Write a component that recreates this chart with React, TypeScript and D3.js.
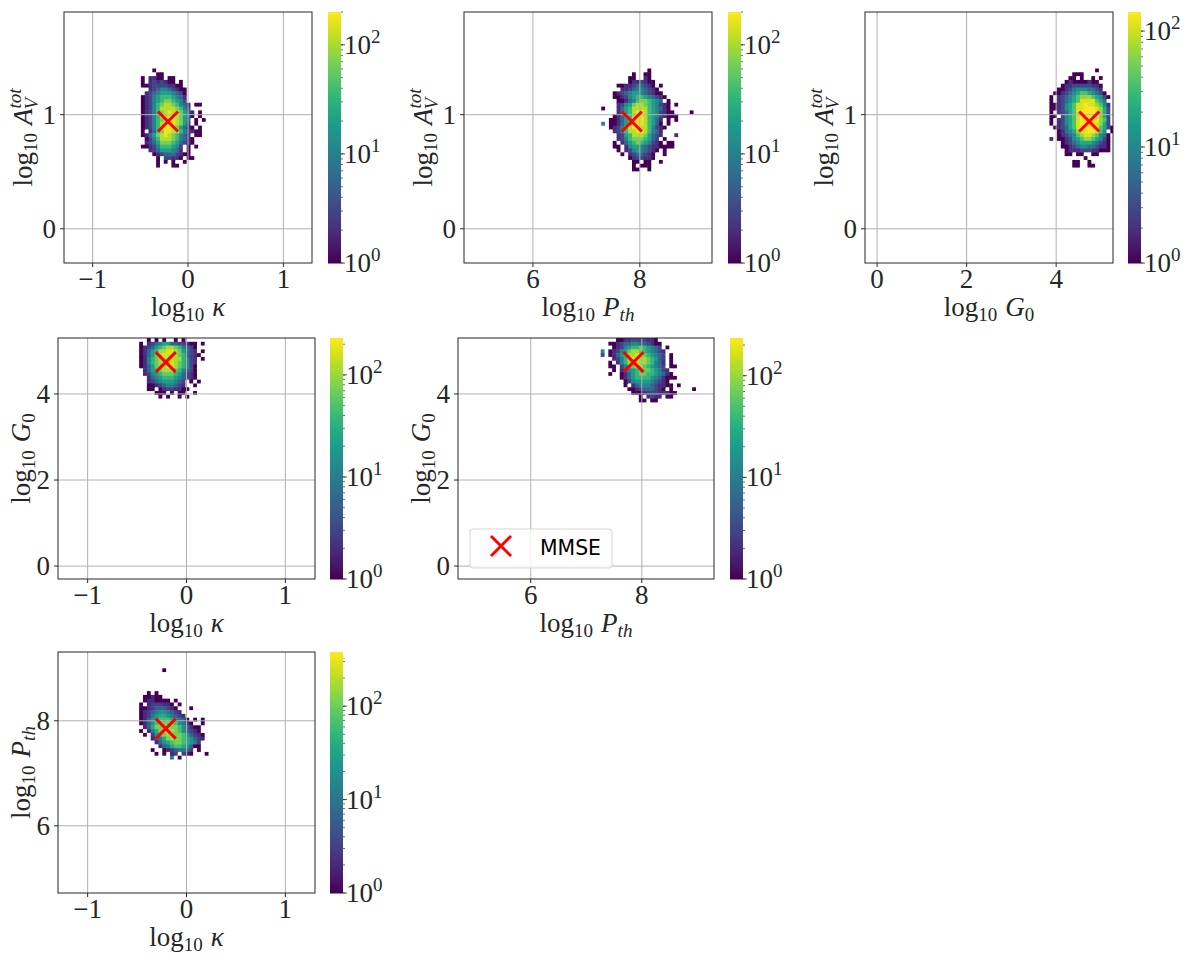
import React from "react";
import * as d3 from "d3";

// Each character is a colour level; "." is an empty bin.
const levelCounts = [1, 2, 3, 6, 11, 20, 36, 65, 110, 170];

const kappaAvRows = [
  "...0.............",
  "....00...........",
  "0.1100.00........",
  "0.1212100.0......",
  "00122221100......",
  "..1234432100.....",
  ".12345554320.....",
  "012456665431.....",
  "012456776542.....",
  "0124678876431.00.",
  "0124688887642....",
  "01246789887531.0.",
  "01246889887530.0.",
  "0124678998753.0.0",
  "0124689998752.0..",
  "01246899875310.0.",
  "0.13679988642100.",
  "0135789876431.00.",
  ".0246888764310...",
  ".1235777653210...",
  "00124666542.0.0..",
  "..123555431.0....",
  "...0123332100....",
  "....0.22110.00...",
  "....0.0.0..0.....",
  "....0...00.......",
];

const pthAvRows = [
  "............0............",
  "........0..00............",
  ".......00..10............",
  ".......0112100...........",
  "....0011233210.0.........",
  ".....1123443210..........",
  "...0123455432100.........",
  "...00124566543210........",
  "....001346776543.0.......",
  "....12457887654210.0.....",
  "0...13568888654310.......",
  "....135689986542100....0.",
  "...01356899865421000.....",
  "..00135699986531.0.0.....",
  "4.00135689986530.0.......",
  "..012468998864210........",
  "...1246889986431.........",
  "....125688875321...1.....",
  "....12467776532.0........",
  "...0.13567654210.00......",
  "...00.1455432110000......",
  "....0.124543210.0........",
  ".....0.1233210..0........",
  ".......0122110...........",
  "........00.00..0.........",
  "........0.000............",
  "........00..0............",
];

const g0AvRows = [
  "............0....",
  "......000........",
  ".....00.0..0.0...",
  "....010000100....",
  "...01122222110...",
  "..001234443321...",
  ".00123456654320..",
  "0.12345677765420.",
  "0.1234568888653..",
  "0012456889887641.",
  "0012456889998752.",
  "0.12356899998752.",
  "00.2456899999752.",
  "0.12456899999762.",
  "0.12456899998752.",
  ".0123568899986520",
  "..0134578899864.0",
  "..01234678876430.",
  "1.00124567765420.",
  "...0123455543210.",
  "...0012344332110.",
  "....011122211000.",
  "....00.00..00....",
  ".........0.......",
  "......00..0......",
  "......00..00.....",
];

const kappaG0Rows = [
  "..0.0.0..0.0.....",
  "0.1234553322100.0",
  "012356788764320..",
  "013568899875321.0",
  "0135789998763210.",
  "014678999886421.0",
  "014678999876421..",
  "013578899876420..",
  ".13567888764320..",
  ".12456777653210..",
  "..1345666543210..",
  "..1234555432.0.0.",
  "..0012344321..0..",
  "..00.01221100....",
  "....000.0.00..0..",
  ".....0.0..0.0....",
];

const pthG0Rows = [
  "....00112222110",
  "..00123344332100",
  "...0124566765432.0",
  "4.012457887654321",
  "2.013568898765432.0",
  "...12468998876532.0",
  "..0.1468998876431.0",
  "..00.246788765432.00",
  "...0.1245677765421",
  "..0..01356776654310",
  ".....013566665431000",
  "......024555543210",
  "......0.13444321100.0",
  ".......0012333210.0.....0",
  "........000122211100",
  "..........0.1211.00",
  "..........00.00",
];

const kappaPthRows = [
  "......0..........",
  ".................",
  ".................",
  ".................",
  ".................",
  ".................",
  "..0.0............",
  ".00100...........",
  ".0110000.0.......",
  "0.1222110.0......",
  "0012333210...0...",
  "01234554321......",
  "012456654321.....",
  "0135677765430.0.0",
  "01357888875420..0",
  ".136889988753100.",
  "0.14689998753210",
  ".0.25789988753210",
  "...13468988765321",
  "....135678876542",
  ".....13467765300.",
  "...0..01234432.0",
  "....0.0.12.210...0",
  "........4.0......",
];

const bottomTicksKappa = [-1, 0, 1];
const bottomTicksPth = [6, 8];
const bottomTicksG0 = [0, 2, 4];
const leftTicksAv = [0, 1];
const leftTicksG0 = [0, 2, 4];
const leftTicksPth = [6, 8];

const mmseKappa = -0.21;
const mmsePth = 7.85;
const mmseG0 = 4.74;
const mmseAv = 0.94;

const legendLabel = "MMSE";

type VarName = "kappa" | "pth" | "g0" | "av";

type Panel = {
  box: [number, number, number, number];
  cbarX: number;
  labelGap: number;
  xDomain: [number, number];
  yDomain: [number, number];
  xVar: VarName;
  yVar: VarName;
  xTicks: number[];
  yTicks: number[];
  rows: string[];
  xStart: number;
  yTop: number;
  binX: number;
  binY: number;
  vmax: number;
  mx: number;
  my: number;
  legend?: boolean;
};

const panels: Panel[] = [
  { box: [64, 12, 312, 263], cbarX: 328, labelGap: 32, xDomain: [-1.3, 1.3], yDomain: [-0.3, 1.9], xVar: "kappa", yVar: "av", xTicks: bottomTicksKappa, yTicks: leftTicksAv, rows: kappaAvRows, xStart: -0.494, yTop: 1.405, binX: 0.04, binY: 0.0334, vmax: 200, mx: mmseKappa, my: mmseAv },
  { box: [464, 12, 712, 263], cbarX: 728, labelGap: 32, xDomain: [4.71, 9.35], yDomain: [-0.3, 1.9], xVar: "pth", yVar: "av", xTicks: bottomTicksPth, yTicks: leftTicksAv, rows: pthAvRows, xStart: 7.277, yTop: 1.405, binX: 0.072, binY: 0.0334, vmax: 200, mx: mmsePth, my: mmseAv },
  { box: [865, 12, 1113, 263], cbarX: 1128, labelGap: 32, xDomain: [-0.27, 5.27], yDomain: [-0.3, 1.9], xVar: "g0", yVar: "av", xTicks: bottomTicksG0, yTicks: leftTicksAv, rows: g0AvRows, xStart: 3.85, yTop: 1.405, binX: 0.085, binY: 0.0334, vmax: 146, mx: mmseG0, my: mmseAv },
  { box: [58, 338, 315, 579], cbarX: 330, labelGap: 28, xDomain: [-1.3, 1.3], yDomain: [-0.3, 5.3], xVar: "kappa", yVar: "g0", xTicks: bottomTicksKappa, yTicks: leftTicksG0, rows: kappaG0Rows, xStart: -0.479, yTop: 5.3, binX: 0.039, binY: 0.088, vmax: 230, mx: mmseKappa, my: mmseG0 },
  { box: [458, 338, 714, 579], cbarX: 730, labelGap: 28, xDomain: [4.69, 9.3], yDomain: [-0.3, 5.3], xVar: "pth", yVar: "g0", xTicks: bottomTicksPth, yTicks: leftTicksG0, rows: pthG0Rows, xStart: 7.26, yTop: 5.3, binX: 0.0686, binY: 0.088, vmax: 235, mx: mmsePth, my: mmseG0, legend: true },
  { box: [58, 652, 315, 893], cbarX: 330, labelGap: 28, xDomain: [-1.3, 1.3], yDomain: [4.72, 9.31], xVar: "kappa", yVar: "pth", xTicks: bottomTicksKappa, yTicks: leftTicksPth, rows: kappaPthRows, xStart: -0.479, yTop: 9.0, binX: 0.039, binY: 0.0724, vmax: 380, mx: mmseKappa, my: mmsePth },
];

const SERIF = "'Liberation Serif', 'DejaVu Serif', serif";
const INK = "#262626";
const BIG = 27;
const SMALL = 19;

function VarLabel({ name }: { name: VarName }) {
  const log = (
    <>
      <tspan>log</tspan>
      <tspan dy={5} fontSize={SMALL}>10</tspan>
    </>
  );
  if (name === "kappa")
    return <>{log}<tspan dy={-5} dx={8} fontStyle="italic">κ</tspan></>;
  if (name === "pth")
    return <>{log}<tspan dy={-5} dx={8} fontStyle="italic">P</tspan><tspan dy={5} fontSize={SMALL} fontStyle="italic">th</tspan></>;
  if (name === "g0")
    return <>{log}<tspan dy={-5} dx={8} fontStyle="italic">G</tspan><tspan dy={5} fontSize={SMALL}>0</tspan></>;
  return (
    <>
      {log}
      <tspan dy={-5} dx={8} fontStyle="italic">A</tspan>
      <tspan dy={-11} fontSize={SMALL} fontStyle="italic">tot</tspan>
      <tspan dy={17} dx={-21} fontSize={SMALL} fontStyle="italic">V</tspan>
    </>
  );
}

function PanelView({ p }: { p: Panel }) {
  const [x0, y0, x1, y1] = p.box;
  const x = d3.scaleLinear().domain(p.xDomain).range([x0, x1]);
  const y = d3.scaleLinear().domain(p.yDomain).range([y1, y0]);
  const cy = d3.scaleLog().domain([1, p.vmax]).range([y1, y0]);
  const colour = d3.scaleSequentialLog(d3.interpolateViridis).domain([1, p.vmax]).clamp(true);
  const cbarW = 13;
  const bandPx = d3.range(y0, y1);
  const minorTicks = cy.ticks().filter((t) => t >= 1 && t <= p.vmax);
  const majorTicks = [1, 10, 100].filter((t) => t <= p.vmax);
  const mxPx = x(p.mx);
  const myPx = y(p.my);
  const arm = 10;
  const clipId = `clip-${x0}-${y0}`;
  const cells: React.ReactNode[] = [];
  p.rows.forEach((row, r) => {
    row.split("").forEach((ch, c) => {
      const level = parseInt(ch, 10);
      if (Number.isNaN(level)) return;
      const left = x(p.xStart + c * p.binX);
      const right = x(p.xStart + (c + 1) * p.binX);
      const top = y(p.yTop - r * p.binY);
      const bottom = y(p.yTop - (r + 1) * p.binY);
      const hasRight = /[0-9]/.test(row[c + 1] || "");
      const hasBelow = /[0-9]/.test((p.rows[r + 1] || "")[c] || "");
      cells.push(
        <rect key={`${r}-${c}`} x={left} y={top}
          width={right - left + (hasRight ? 0.5 : 0)} height={bottom - top + (hasBelow ? 0.5 : 0)}
          fill={colour(levelCounts[level])} />
      );
    });
  });
  return (
    <g>
      <clipPath id={clipId}><rect x={x0} y={y0} width={x1 - x0} height={y1 - y0} /></clipPath>
      <g clipPath={`url(#${clipId})`}>
        {cells}
        {p.xTicks.map((t) => <line key={t} x1={x(t)} x2={x(t)} y1={y0} y2={y1} stroke="#b0b0b0" strokeWidth={1} />)}
        {p.yTicks.map((t) => <line key={t} x1={x0} x2={x1} y1={y(t)} y2={y(t)} stroke="#b0b0b0" strokeWidth={1} />)}
        <path d={`M${mxPx - arm},${myPx - arm}L${mxPx + arm},${myPx + arm}M${mxPx - arm},${myPx + arm}L${mxPx + arm},${myPx - arm}`}
          stroke="#ff0000" strokeWidth={3} fill="none" />
      </g>
      <rect x={x0} y={y0} width={x1 - x0} height={y1 - y0} fill="none" stroke={INK} strokeWidth={1} />
      {p.xTicks.map((t) => (
        <g key={t}>
          <line x1={x(t)} x2={x(t)} y1={y1} y2={y1 + 4} stroke={INK} strokeWidth={1} />
          <text x={x(t)} y={y1 + 25} textAnchor="middle" fontFamily={SERIF} fontSize={BIG} fill={INK}>
            {t < 0 ? `\u2212${-t}` : t}
          </text>
        </g>
      ))}
      {p.yTicks.map((t) => (
        <g key={t}>
          <line x1={x0 - 4} x2={x0} y1={y(t)} y2={y(t)} stroke={INK} strokeWidth={1} />
          <text x={x0 - 8} y={y(t) + 9} textAnchor="end" fontFamily={SERIF} fontSize={BIG} fill={INK}>{t}</text>
        </g>
      ))}
      <text x={(x0 + x1) / 2} y={y1 + 53} textAnchor="middle" fontFamily={SERIF} fontSize={BIG} fill={INK}>
        <VarLabel name={p.xVar} />
      </text>
      <text transform={`translate(${x0 - p.labelGap},${(y0 + y1) / 2}) rotate(-90)`} textAnchor="middle" fontFamily={SERIF} fontSize={BIG} fill={INK}>
        <VarLabel name={p.yVar} />
      </text>
      {bandPx.map((py) => (
        <rect key={py} x={p.cbarX} y={py} width={cbarW} height={1.5} fill={colour(cy.invert(py + 0.5))} />
      ))}
      {minorTicks.map((t) => (
        <line key={t} x1={p.cbarX + cbarW} x2={p.cbarX + cbarW + 2} y1={cy(t)} y2={cy(t)} stroke={INK} strokeWidth={0.7} />
      ))}
      {majorTicks.map((t) => (
        <g key={t}>
          <line x1={p.cbarX + cbarW} x2={p.cbarX + cbarW + 4} y1={cy(t)} y2={cy(t)} stroke={INK} strokeWidth={0.8} />
          <text x={p.cbarX + cbarW + 3} y={cy(t) + 9} fontFamily={SERIF} fontSize={BIG} fill={INK}>
            10<tspan dy={-11} fontSize={SMALL}>{Math.round(Math.log10(t))}</tspan>
          </text>
        </g>
      ))}
      {p.legend && (
        <g>
          <rect x={470} y={529} width={142} height={39} rx={3} fill="#ffffff" fillOpacity={0.8} stroke="#cccccc" strokeOpacity={0.8} />
          <path d="M491,536L511,556M491,556L511,536" stroke="#ff0000" strokeWidth={3} fill="none" />
          <text x={540} y={555} fontFamily="'DejaVu Sans', sans-serif" fontSize={22} textLength={61} lengthAdjust="spacingAndGlyphs" fill="#000">{legendLabel}</text>
        </g>
      )}
    </g>
  );
}

export default function App() {
  return (
    <svg width={1186} height={954} style={{ position: "absolute", left: 0, top: 0, display: "block", background: "#fff" }}>
      {panels.map((p, i) => <PanelView key={i} p={p} />)}
    </svg>
  );
}
